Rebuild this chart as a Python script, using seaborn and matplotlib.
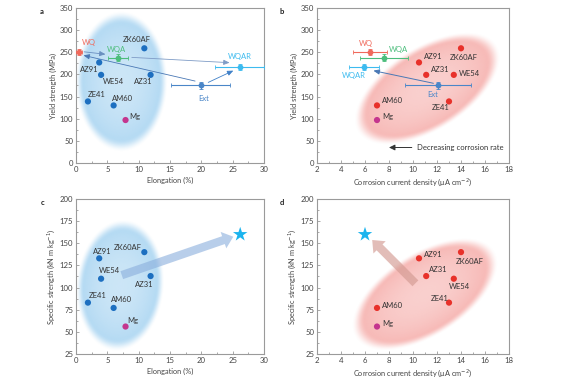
import numpy as np
import pandas as pd
import matplotlib
matplotlib.use("Agg")
import matplotlib.pyplot as plt
from matplotlib.ticker import MultipleLocator, AutoMinorLocator
import seaborn as sns

# ---------------- data ----------------
alloys = ['ZK60AF', 'AZ91', 'WE54', 'AZ31', 'ZE41', 'AM60', 'Mg']
elongation = [10.9, 3.7, 4.0, 11.9, 1.9, 6.0, 7.9]
yield_strength = [259, 227, 199, 199, 139, 130, 97]
corrosion = [14.0, 10.5, 13.4, 11.1, 13.0, 7.0, 7.0]
specific_strength = [140, 133, 110, 113, 83, 77, 56]

treatments = ['WQ', 'WQA', 'WQAR', 'Ext']
t_elongation = [0.5, 6.7, 26.1, 19.9]
t_elongation_err = [0.5, 1.6, 3.9, 4.7]
t_yield = [250, 238, 217, 175]
t_yield_err = [7, 7, 7, 7]
t_corrosion = [6.4, 7.6, 5.9, 12.1]
t_corrosion_err = [1.4, 2.0, 1.25, 2.75]

target_elongation = [26.2]
target_corrosion = [6.0]
target_specific = [160]

# ---------------- style ----------------
sns.set_style('ticks')
plt.rcParams['font.family'] = ['Lato', 'DejaVu Sans']
plt.rcParams['axes.edgecolor'] = '#9a9a9a'
plt.rcParams['axes.linewidth'] = 0.8
plt.rcParams['xtick.color'] = '#9a9a9a'
plt.rcParams['ytick.color'] = '#9a9a9a'
plt.rcParams['xtick.labelcolor'] = '#444444'
plt.rcParams['ytick.labelcolor'] = '#444444'

LBL = '#333333'
BLUE_DOT = '#1d6fc0'
RED_DOT = '#e8312a'
MG = '#c4358e'
T_COL = {'WQ': '#f06a5c', 'WQA': '#4cbd7c', 'WQAR': '#3dbbef', 'Ext': '#4a86c8'}
STAR = '#1cb4ee'

df = pd.DataFrame({'alloy': alloys, 'elong': elongation, 'ys': yield_strength,
                   'icorr': corrosion, 'spec': specific_strength})
df['kind'] = np.where(df['alloy'] == 'Mg', 'Mg', 'alloy')

fig = plt.figure(figsize=(5.79, 3.82), dpi=100)
axa = fig.add_axes([0.1313, 0.5733, 0.3247, 0.4058])
axb = fig.add_axes([0.5475, 0.5733, 0.3316, 0.4058])
axc = fig.add_axes([0.1313, 0.0733, 0.3247, 0.4058])
axd = fig.add_axes([0.5475, 0.0733, 0.3316, 0.4058])


def setup(ax, xlim, ylim, xmaj, ymaj, xlabel, ylabel, letter):
    ax.set_xlim(*xlim)
    ax.set_ylim(*ylim)
    ax.xaxis.set_major_locator(MultipleLocator(xmaj))
    ax.yaxis.set_major_locator(MultipleLocator(ymaj))
    ax.xaxis.set_minor_locator(AutoMinorLocator(2))
    ax.yaxis.set_minor_locator(AutoMinorLocator(2))
    ax.tick_params(which='both', direction='in', top=False, right=False, labelsize=5.6, pad=2)
    ax.tick_params(which='major', length=2.5, width=0.6)
    ax.tick_params(which='minor', length=1.5, width=0.6)
    ax.set_xlabel(xlabel, fontsize=5.3, color='#444444', labelpad=3)
    ax.set_ylabel(ylabel, fontsize=5.3, color='#444444', labelpad=2)
    for s in ax.spines.values():
        s.set_visible(True)
    ax.text(-0.17, 1.0, letter, transform=ax.transAxes, fontsize=5.5,
            fontweight='bold', ha='right', va='top', color='#222222')


def glow(ax, cx, cy, a_px, b_px, ang, rgb):
    x0, x1 = ax.get_xlim()
    y0, y1 = ax.get_ylim()
    bb = ax.get_window_extent()
    sx = bb.width / (x1 - x0)
    sy = bb.height / (y1 - y0)
    nx, ny = 400, 400
    X, Y = np.meshgrid(np.linspace(x0, x1, nx), np.linspace(y0, y1, ny))
    dx = (X - cx) * sx
    dy = (Y - cy) * sy
    t = np.deg2rad(ang)
    u = dx * np.cos(t) + dy * np.sin(t)
    v = -dx * np.sin(t) + dy * np.cos(t)
    r = np.sqrt((u / a_px) ** 2 + (v / b_px) ** 2)
    inner = 0.32 + 0.14 * np.clip(r / 0.9, 0, 1) ** 2
    s = np.clip((r - 0.9) / 0.2, 0, 1)
    outer = 0.46 * (1 - (3 * s ** 2 - 2 * s ** 3))
    alpha = np.where(r <= 0.9, inner, outer)
    img = np.zeros((ny, nx, 4))
    img[..., 0] = rgb[0] / 255
    img[..., 1] = rgb[1] / 255
    img[..., 2] = rgb[2] / 255
    img[..., 3] = alpha
    ax.imshow(img, extent=(x0, x1, y0, y1), origin='lower', aspect='auto',
              zorder=0, interpolation='bilinear')
    ax.set_xlim(x0, x1)
    ax.set_ylim(y0, y1)


def dots(ax, xcol, ycol, color):
    sns.scatterplot(data=df, x=xcol, y=ycol, hue='kind',
                    palette={'alloy': color, 'Mg': MG}, s=20, edgecolor='none',
                    legend=False, ax=ax, zorder=5)


def labels(ax, pos):
    for name, (x, y) in pos.items():
        ax.text(x, y, name, fontsize=5.5, color=LBL, ha='left', va='center', zorder=6)


def treated(ax, xs, xerrs):
    for i, name in enumerate(treatments):
        ax.errorbar(xs[i], t_yield[i], xerr=xerrs[i], yerr=t_yield_err[i], fmt='o',
                    color=T_COL[name], ms=4.2, mec='none', elinewidth=0.8,
                    capsize=1.5, capthick=0.6, zorder=4, clip_on=True)


def thin_arrow(ax, tail, head, color='#4a78b5', lw=0.6):
    ax.annotate('', xy=head, xytext=tail,
                arrowprops=dict(arrowstyle='-|>,head_length=0.35,head_width=0.15',
                                color=color, lw=lw, shrinkA=0, shrinkB=0), zorder=3)


def big_arrow(ax, tail, head, color, alpha):
    ax.annotate('', xy=head, xytext=tail,
                arrowprops=dict(arrowstyle='simple,tail_width=0.6,head_width=1.25,head_length=0.75',
                                fc=color, ec='none', alpha=alpha, mutation_scale=10,
                                shrinkA=0, shrinkB=0), zorder=3)


ms_label = 'Specific strength (kN m kg$^{-1}$)'
cc_label = 'Corrosion current density (\u03bcA cm$^{-2}$)'

# ---------------- panel a ----------------
setup(axa, (0, 30), (0, 350), 5, 50, 'Elongation (%)', 'Yield strength (MPa)', 'a')
glow(axa, 7.2, 183, 42, 64, 0, (95, 176, 230))
dots(axa, 'elong', 'ys', BLUE_DOT)
treated(axa, t_elongation, t_elongation_err)
thin_arrow(axa, (1.3, 251), (4.7, 245.5), color='#6a8fc0')
thin_arrow(axa, (8.9, 238.5), (24.5, 226.5), color='#7f9cc6')
thin_arrow(axa, (19.0, 185), (1.2, 243), color='#4a78b5')
thin_arrow(axa, (21.1, 182), (25.1, 208.5), color='#3f80c8')
labels(axa, {'ZK60AF': (7.5, 278), 'AZ91': (0.7, 210), 'WE54': (4.3, 185),
             'AZ31': (9.3, 185), 'ZE41': (1.9, 155), 'AM60': (5.7, 145), 'Mg': (8.5, 106)})
for name, (x, y) in {'WQ': (0.9, 271), 'WQA': (4.9, 257), 'WQAR': (24.2, 240)}.items():
    axa.text(x, y, name, fontsize=5.5, color=T_COL[name], ha='left', va='center', zorder=6)
axa.text(20.4, 145, 'Ext', fontsize=5.5, color=T_COL['Ext'], ha='center', va='center', zorder=6)

# ---------------- panel b ----------------
setup(axb, (2, 18), (0, 350), 2, 50, cc_label, 'Yield strength (MPa)', 'b')
glow(axb, 11.2, 167, 75, 38, 32, (238, 106, 100))
dots(axb, 'icorr', 'ys', RED_DOT)
treated(axb, t_corrosion, t_corrosion_err)
thin_arrow(axb, (11.7, 180), (6.7, 208.5), color='#4a78b5', lw=0.7)
labels(axb, {'AZ91': (10.9, 240), 'ZK60AF': (13.1, 238), 'AZ31': (11.5, 212),
             'WE54': (13.8, 201), 'ZE41': (11.6, 125), 'AM60': (7.4, 140), 'Mg': (7.4, 105)})
for name, (x, y) in {'WQ': (5.45, 270), 'WQA': (7.95, 257), 'WQAR': (4.05, 197),
                     'Ext': (11.2, 155)}.items():
    axb.text(x, y, name, fontsize=5.5, color=T_COL[name], ha='left', va='center', zorder=6)
axb.annotate('', xy=(8.0, 35), xytext=(9.9, 35),
             arrowprops=dict(arrowstyle='-|>,head_length=0.35,head_width=0.17',
                             color='#333333', lw=0.7, shrinkA=0, shrinkB=0))
axb.text(10.3, 35, 'Decreasing corrosion rate', fontsize=5.5, color=LBL,
         ha='left', va='center')

# ---------------- panel c ----------------
setup(axc, (0, 30), (25, 200), 5, 25, 'Elongation (%)', ms_label, 'c')
glow(axc, 7.0, 102, 40, 60, -5, (95, 176, 230))
big_arrow(axc, (7.3, 114), (25.1, 157.4), '#8aaedc', 0.6)
dots(axc, 'elong', 'spec', BLUE_DOT)
sns.scatterplot(x=target_elongation, y=target_specific, marker='*', s=120,
                color=STAR, edgecolor='none', ax=axc, zorder=6, legend=False)
labels(axc, {'AZ91': (2.7, 141), 'ZK60AF': (6.1, 145.5), 'WE54': (3.7, 118.7),
             'AZ31': (9.4, 104), 'ZE41': (2.0, 90.5), 'AM60': (5.6, 86.3), 'Mg': (8.25, 62.6)})

# ---------------- panel d ----------------
setup(axd, (2, 18), (25, 200), 2, 25, cc_label, ms_label, 'd')
glow(axd, 11.0, 92, 75, 38, 32, (238, 106, 100))
big_arrow(axd, (10.2, 104.8), (6.6, 153.7), '#d39a92', 0.65)
dots(axd, 'icorr', 'spec', RED_DOT)
sns.scatterplot(x=target_corrosion, y=target_specific, marker='*', s=120,
                color=STAR, edgecolor='none', ax=axd, zorder=6, legend=False)
labels(axd, {'AZ91': (10.9, 137.6), 'ZK60AF': (13.55, 129), 'AZ31': (11.35, 120.6),
             'WE54': (12.95, 101), 'ZE41': (11.5, 87.9), 'AM60': (7.4, 80.3), 'Mg': (7.4, 59.7)})

fig.savefig('out.png', dpi=100)
